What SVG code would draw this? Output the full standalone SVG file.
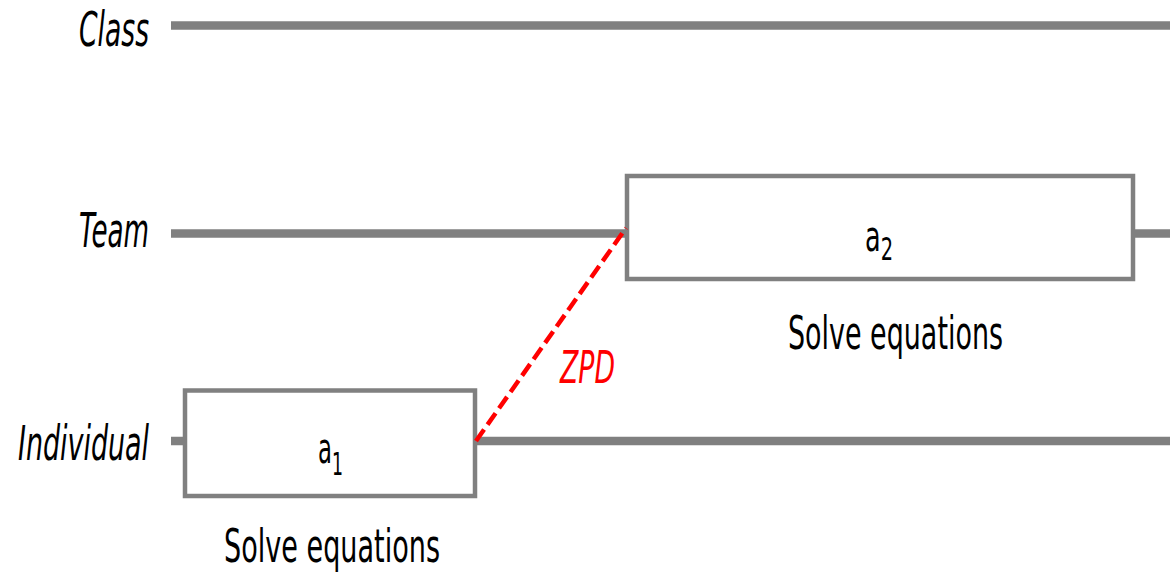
<svg xmlns="http://www.w3.org/2000/svg" width="1176" height="573" viewBox="0 0 1176 573">
<style>
.lane{stroke:#808080;stroke-width:8.5;fill:none}
.box{fill:#fff;stroke:#808080;stroke-width:4.5}
.lbl{font-family:"DejaVu Sans Condensed","Liberation Sans",sans-serif;font-style:italic;font-size:48px;fill:#000}
.txt{font-family:"DejaVu Sans Condensed","Liberation Sans",sans-serif;font-size:47px;fill:#000}
.act{font-family:"DejaVu Sans Condensed","Liberation Sans",sans-serif;font-size:42px;fill:#000}
.sub{font-size:32px}
.zpd{font-family:"DejaVu Sans Condensed","Liberation Sans",sans-serif;font-style:italic;font-size:45px;fill:#ff0000}
</style>
<g id="labels">
<text class="lbl" x="149" y="46" text-anchor="end" textLength="70" lengthAdjust="spacingAndGlyphs">Class</text>
<text class="lbl" x="149" y="247" text-anchor="end" textLength="70" lengthAdjust="spacingAndGlyphs">Team</text>
<text class="lbl" x="149" y="460" text-anchor="end" textLength="131" lengthAdjust="spacingAndGlyphs">Individual</text>
</g>
<g id="lanes">
<line class="lane" x1="171" y1="25.5" x2="1170" y2="25.5"/>
<line class="lane" x1="171" y1="233.5" x2="1170" y2="233.5"/>
<line class="lane" x1="171" y1="441" x2="1170" y2="441"/>
</g>
<g id="node-a1">
<rect class="box" x="185" y="390.5" width="290" height="105.5"/>
<text class="act" x="318" y="463" textLength="25" lengthAdjust="spacingAndGlyphs">a<tspan class="sub" dy="12">1</tspan></text>
<text class="txt" x="224" y="562" textLength="216" lengthAdjust="spacingAndGlyphs">Solve equations</text>
</g>
<g id="node-a2">
<rect class="box" x="627" y="176" width="506" height="103"/>
<text class="act" x="865" y="251" textLength="28" lengthAdjust="spacingAndGlyphs">a<tspan class="sub" dy="9">2</tspan></text>
<text class="txt" x="788" y="349" textLength="215" lengthAdjust="spacingAndGlyphs">Solve equations</text>
</g>
<g id="connectors">
<line x1="476" y1="441" x2="626" y2="228" stroke="#ff0000" stroke-width="4.5" stroke-dasharray="14,6"/>
<text class="zpd" x="560" y="383" textLength="55" lengthAdjust="spacingAndGlyphs">ZPD</text>
</g>
</svg>
